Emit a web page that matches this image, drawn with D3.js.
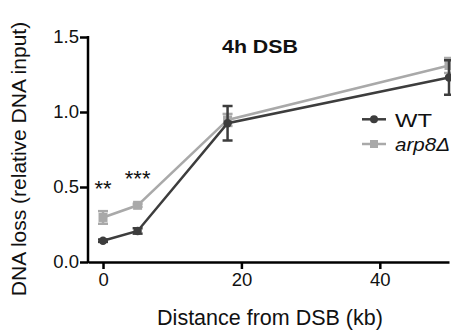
<!DOCTYPE html>
<html>
<head>
<meta charset="utf-8">
<script src="https://cdn.jsdelivr.net/npm/d3@7"></script>
<style>
  body { margin: 0; background: #fff; }
  svg { display: block; font-family: "Liberation Sans", Arial, sans-serif; }
</style>
</head>
<body>
<div id="chart"></div>
<script>
// DNA loss vs distance from DSB, two strains
const distances = [0, 5, 18, 50];
const wtValues = [0.142, 0.207, 0.925, 1.23];
const wtErrors = [0.008, 0.018, 0.115, 0.115];
const arpValues = [0.297, 0.378, 0.947, 1.31];
const arpErrors = [0.042, 0.01, 0.04, 0.05];
const xTicks = [0, 20, 40];
const yTicks = [0, 0.5, 1.0, 1.5];
const stars = [{ x: 0, y: 0.5, label: '**' }, { x: 5, y: 0.564, label: '***' }];

const width = 451, height = 332;
const svg = d3.select('#chart').append('svg')
  .attr('width', width)
  .attr('height', height);

const x = d3.scaleLinear().domain([-2.17, 50]).range([88, 449]);
const y = d3.scaleLinear().domain([0, 1.5]).range([262, 37]);

const series = [
  { name: 'WT', values: wtValues, errors: wtErrors, color: '#3d3d3d', shape: 'circle', len: 37 },
  { name: 'arp8Δ', values: arpValues, errors: arpErrors, color: '#a9a9a9', shape: 'square', len: 55 }
];

// axes
const xAxis = svg.append('g')
  .attr('transform', `translate(0, ${y(0)})`)
  .call(d3.axisBottom(x).tickValues(xTicks).tickSize(7).tickSizeOuter(0).tickPadding(4));

const yAxis = svg.append('g')
  .attr('transform', `translate(${x.range()[0]}, 0)`)
  .call(d3.axisLeft(y).tickValues(yTicks).tickSize(8).tickSizeOuter(0).tickPadding(1)
    .tickFormat(d3.format('.1f')));

[xAxis, yAxis].forEach(g => {
  g.select('.domain').attr('stroke', '#000').attr('stroke-width', 2.5);
  g.selectAll('.tick line').attr('stroke', '#000').attr('stroke-width', 2.5);
  g.selectAll('.tick text')
    .style('font-size', '18.5px')
    .style('font-family', '"Liberation Sans", Arial, sans-serif')
    .attr('fill', '#111');
});
yAxis.select('.domain').attr('d', `M0,${y(0) + 1}V${y(1.5) - 1}`);

// lines, error bars, markers
const line = d3.line().x((d, i) => x(distances[i])).y(d => d);

series.slice().reverse().forEach(s => {
  const g = svg.append('g');
  g.append('path')
    .attr('d', line(s.values.map(v => y(v))))
    .attr('fill', 'none')
    .attr('stroke', s.color)
    .attr('stroke-width', 2.5);

  s.values.forEach((v, i) => {
    const cx = x(distances[i]);
    const lo = y(v - s.errors[i]), hi = y(v + s.errors[i]);
    g.append('line')
      .attr('x1', cx).attr('x2', cx).attr('y1', lo).attr('y2', hi)
      .attr('stroke', s.color).attr('stroke-width', 2.5);
    [lo, hi].forEach(yy => g.append('line')
      .attr('x1', cx - 5).attr('x2', cx + 5).attr('y1', yy).attr('y2', yy)
      .attr('stroke', s.color).attr('stroke-width', 2.5));
  });

  s.values.forEach((v, i) => {
    const cx = x(distances[i]), cy = y(v);
    if (s.shape === 'circle') {
      g.append('circle').attr('cx', cx).attr('cy', cy).attr('r', 4.2).attr('fill', s.color);
    } else {
      g.append('rect').attr('x', cx - 4.5).attr('y', cy - 4.5)
        .attr('width', 9).attr('height', 9).attr('fill', s.color);
    }
  });
});

// significance stars
svg.selectAll('.star')
  .data(stars)
  .enter()
  .append('text')
  .attr('x', d => x(d.x))
  .attr('y', d => y(d.y) + 8.6)
  .attr('text-anchor', 'middle')
  .style('font-size', '22px')
  .attr('fill', '#111')
  .text(d => d.label);

// title
svg.append('text')
  .attr('x', 222)
  .attr('y', 52.5)
  .attr('textLength', 76)
  .attr('lengthAdjust', 'spacingAndGlyphs')
  .style('font-size', '18.5px')
  .style('font-weight', 'bold')
  .attr('fill', '#111')
  .text('4h DSB');

// legend
series.forEach((s, i) => {
  const ly = 119.3 + i * 24.7;
  svg.append('line')
    .attr('x1', 362).attr('x2', 386).attr('y1', ly).attr('y2', ly)
    .attr('stroke', s.color).attr('stroke-width', 2.5);
  if (s.shape === 'circle') {
    svg.append('circle').attr('cx', 374).attr('cy', ly).attr('r', 4).attr('fill', s.color);
  } else {
    svg.append('rect').attr('x', 370).attr('y', ly - 4).attr('width', 8).attr('height', 8).attr('fill', s.color);
  }
  svg.append('text')
    .attr('x', 395)
    .attr('y', ly + 7.2)
    .attr('textLength', s.len)
    .attr('lengthAdjust', 'spacingAndGlyphs')
    .style('font-size', '18.5px')
    .style('font-style', i === 1 ? 'italic' : 'normal')
    .attr('fill', '#111')
    .text(s.name);
});

// axis titles
svg.append('text')
  .attr('x', 270)
  .attr('y', 325)
  .attr('text-anchor', 'middle')
  .style('font-size', '21.5px')
  .attr('fill', '#111')
  .text('Distance from DSB (kb)');

svg.append('text')
  .attr('transform', 'translate(26, 159) rotate(-90)')
  .attr('text-anchor', 'middle')
  .style('font-size', '21px')
  .attr('fill', '#111')
  .text('DNA loss (relative DNA input)');
</script>
</body>
</html>
